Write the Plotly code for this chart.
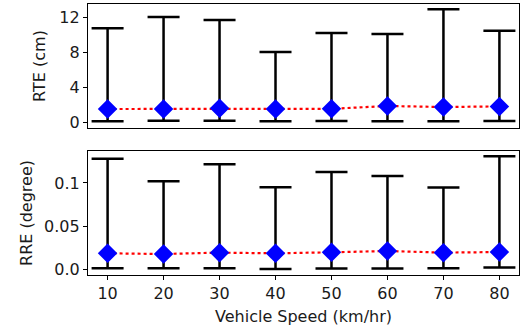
import plotly.graph_objects as go
from plotly.subplots import make_subplots

speeds = [10, 20, 30, 40, 50, 60, 70, 80]

rte_mean = [1.5, 1.5, 1.58, 1.5, 1.52, 1.85, 1.73, 1.8]
rte_max = [10.8, 12.1, 11.77, 8.07, 10.27, 10.15, 13.0, 10.53]
rte_min = [0.08, 0.15, 0.15, 0.1, 0.12, 0.1, 0.08, 0.12]

rre_mean = [0.0185, 0.0177, 0.0193, 0.0185, 0.0197, 0.0212, 0.0193, 0.0200]
rre_max = [0.128, 0.102, 0.1217, 0.095, 0.1128, 0.108, 0.0946, 0.131]
rre_min = [0.0012, 0.0012, 0.0012, 0.0003, 0.0010, 0.0010, 0.0012, 0.0020]

rte_yticks = [0, 4, 8, 12]
rte_ytext = ["0", "4", "8", "12"]
rre_yticks = [0.0, 0.05, 0.1]
rre_ytext = ["0.0", "0.05", "0.1"]

FONT = "DejaVu Sans"
FS = 16
TXT = "#1a1a1a"
fig = make_subplots(rows=2, cols=1, shared_xaxes=False, vertical_spacing=0.0848)


def add_series(mean, mx, mn, row):
    plus = [b - a for a, b in zip(mean, mx)]
    minus = [a - c for a, c in zip(mean, mn)]
    fig.add_trace(go.Scatter(
        x=speeds, y=mean, mode="markers",
        marker=dict(size=0.1, color="rgba(0,0,0,0)"),
        error_y=dict(type="data", symmetric=False, array=plus, arrayminus=minus,
                     color="black", thickness=2.5, width=16),
        showlegend=False, hoverinfo="skip"), row=row, col=1)
    fig.add_trace(go.Scatter(
        x=speeds, y=mean, mode="lines+markers",
        line=dict(color="red", width=2.2, dash="dot"),
        marker=dict(symbol="diamond", size=15, color="blue"),
        showlegend=False), row=row, col=1)


add_series(rte_mean, rte_max, rte_min, 1)
add_series(rre_mean, rre_max, rre_min, 2)

axis_common = dict(showline=True, linecolor="black", linewidth=1.2, mirror=True,
                   showgrid=False, zeroline=False, ticks="outside", ticklen=4,
                   tickcolor="black", tickwidth=1,
                   tickfont=dict(family=FONT, size=FS, color=TXT))

fig.update_xaxes(range=[6.5, 83.5], **axis_common)
fig.update_xaxes(showticklabels=False, ticks="", row=1, col=1)
fig.update_xaxes(tickvals=speeds, row=2, col=1,
                 title=dict(text="Vehicle Speed (km/hr)", standoff=8,
                            font=dict(family=FONT, size=FS, color=TXT)))

fig.update_yaxes(**axis_common)
fig.update_yaxes(range=[-0.69, 13.6], tickvals=rte_yticks, ticktext=rte_ytext, row=1, col=1,
                 title=dict(text="RTE (cm)", standoff=9, font=dict(family=FONT, size=FS, color=TXT)))
fig.update_yaxes(range=[-0.0066, 0.137], tickvals=rre_yticks, ticktext=rre_ytext, row=2, col=1,
                 title=dict(text="RRE (degree)", standoff=7, font=dict(family=FONT, size=FS, color=TXT)))

fig.update_layout(width=521, height=328, margin=dict(l=88, r=2, t=4, b=53),
                  plot_bgcolor="white", paper_bgcolor="white",
                  font=dict(family=FONT, size=FS, color=TXT))

fig.write_html("out.html", config={"displayModeBar": False},
               post_script="document.body.style.margin='0';document.body.style.overflow='hidden';")
